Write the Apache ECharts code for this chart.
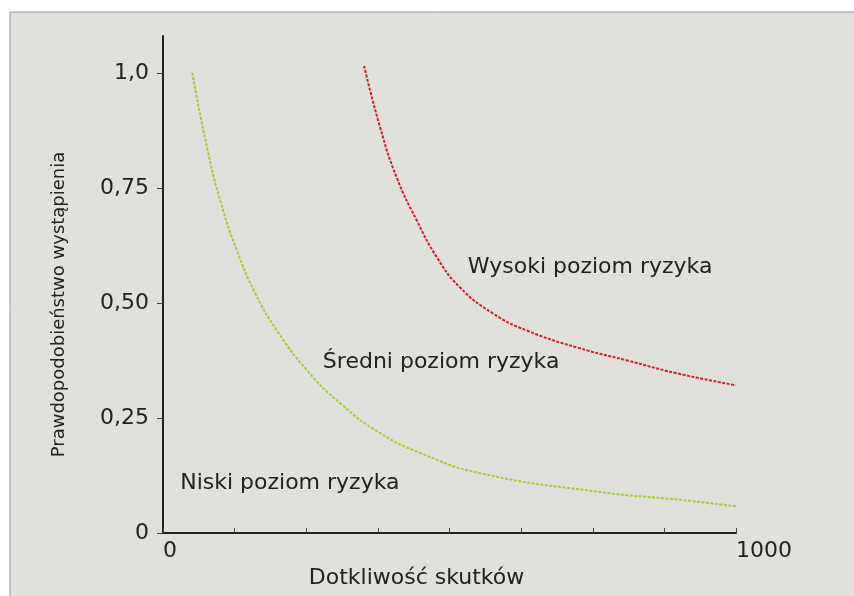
<!DOCTYPE html>
<html>
<head>
<meta charset="utf-8">
<script src="https://cdn.jsdelivr.net/npm/echarts@6/dist/echarts.min.js"></script>
<style>
  html, body { margin: 0; padding: 0; background: #fff; }
  #chart { width: 854px; height: 596px; }
</style>
</head>
<body>
<div id="chart"></div>
<script>
// krzywa dolna (zielona) – granica niskiego poziomu ryzyka
const lowX = [51, 78, 100, 129, 161, 199, 251, 309, 379, 449, 553, 763, 902, 1000]
const lowY = [1.0, 0.831, 0.722, 0.614, 0.521, 0.44, 0.354, 0.282, 0.217, 0.174, 0.13, 0.089, 0.072, 0.058]
// krzywa górna (czerwona) – granica wysokiego poziomu ryzyka
const highX = [351, 379, 408, 443, 478, 518, 576, 635, 723, 810, 897, 1000]
const highY = [1.015, 0.881, 0.772, 0.679, 0.599, 0.534, 0.477, 0.44, 0.403, 0.375, 0.347, 0.321]

const yTicks = [0, 0.25, 0.5, 0.75, 1.0]
const yTickLabels = ['0', '0,25', '0,50', '0,75', '1,0']
const xLabelValues = [0, 1000]

// opisy stref: [tekst, x, y] w jednostkach osi
const zones = [
    ['Wysoki poziom ryzyka', 532, 0.577],
    ['Średni poziom ryzyka', 279, 0.371],
    ['Niski poziom ryzyka', 30, 0.108]
]

const FONT = 'DejaVu Sans'
const TEXT = '#222'

const toPairs = (xs, ys) => xs.map((x, i) => [x, ys[i]])

const chart = echarts.init(document.getElementById('chart'))

const option = {
    animation: false,
    backgroundColor: '#fff',
    textStyle: { fontFamily: FONT },
    grid: { left: 163, right: 118, top: 36, bottom: 63 },
    xAxis: {
        type: 'value',
        min: 0,
        max: 1000,
        interval: 125,
        name: 'Dotkliwość skutków',
        nameLocation: 'middle',
        nameGap: 26,
        nameTextStyle: { color: TEXT, fontSize: 22, fontFamily: FONT, padding: [0, 66, 0, 0] },
        axisLine: { lineStyle: { color: '#222', width: 2 } },
        axisTick: { inside: true, length: 5, lineStyle: { color: '#444', width: 1 } },
        axisLabel: {
            customValues: xLabelValues,
            color: TEXT,
            fontSize: 22,
            fontFamily: FONT,
            margin: 7,
            align: 'left',
            formatter: v => String(v)
        },
        splitLine: { show: false }
    },
    yAxis: {
        type: 'value',
        min: 0,
        max: 1.08,
        name: 'Prawdopodobieństwo wystąpienia',
        nameLocation: 'middle',
        nameGap: 95,
        nameTextStyle: { color: TEXT, fontSize: 18, fontFamily: FONT, padding: [0, 40, 0, 0] },
        axisLine: { show: true, lineStyle: { color: '#222', width: 2 } },
        axisTick: { show: true, customValues: yTicks, length: 6, lineStyle: { color: '#444', width: 1 } },
        axisLabel: {
            customValues: yTicks,
            color: TEXT,
            fontSize: 22,
            fontFamily: FONT,
            margin: 14,
            formatter: v => {
                const i = yTicks.findIndex(t => Math.abs(t - v) < 1e-6)
                return i >= 0 ? yTickLabels[i] : ''
            }
        },
        splitLine: { show: false }
    },
    series: [
        {
            name: 'niski',
            type: 'line',
            smooth: true,
            symbol: 'none',
            data: toPairs(lowX, lowY),
            lineStyle: { color: '#a2cf35', width: 2, type: [3, 1.5] }
        },
        {
            name: 'wysoki',
            type: 'line',
            smooth: true,
            symbol: 'none',
            data: toPairs(highX, highY),
            lineStyle: { color: '#d21f2b', width: 2, type: [3, 1.5] }
        }
    ]
}

chart.setOption(option)

// tło z ramką oraz opisy stref
const graphics = [
    {
        type: 'rect',
        z: -10,
        silent: true,
        shape: { x: 10, y: 12, width: 860, height: 600 },
        style: { fill: '#e0e0dc', stroke: '#9a9a9a', lineWidth: 1 }
    }
]
zones.forEach(([text, x, y]) => {
    const [px, py] = chart.convertToPixel({ gridIndex: 0 }, [x, y])
    graphics.push({
        type: 'text',
        x: px,
        y: py,
        style: {
            text,
            fill: TEXT,
            font: '22px "' + FONT + '"',
            textAlign: 'left',
            textVerticalAlign: 'middle'
        }
    })
})
chart.setOption({ graphic: graphics })
</script>
</body>
</html>
